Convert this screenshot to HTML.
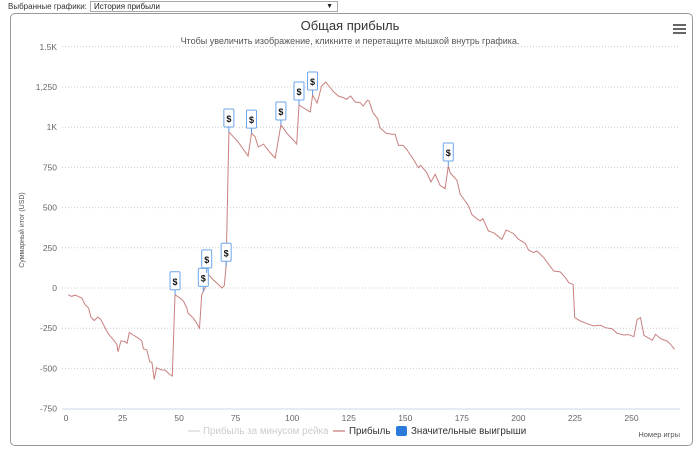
<!DOCTYPE html>
<html><head><meta charset="utf-8">
<style>
html,body{margin:0;padding:0;background:#fff;width:700px;height:455px;overflow:hidden;font-family:"Liberation Sans","DejaVu Sans",sans-serif;}
#top{position:absolute;left:0;top:0;width:700px;height:13px;}
#lbl{position:absolute;left:8px;top:2px;font-size:8px;color:#333;}
#sel{position:absolute;left:90px;top:1px;width:248px;height:11px;border:1px solid #aaa;font-size:8px;color:#222;box-sizing:border-box;padding-left:3px;line-height:9px;background:#fff;}
#sel span{position:absolute;right:4px;top:0;font-size:7px;}
#box{position:absolute;left:10px;top:13px;width:683px;height:433px;border:1px solid #999;border-radius:5px;box-sizing:border-box;}
svg{position:absolute;left:0;top:0;}
</style></head><body>
<div id="top">
<div id="lbl">Выбранные графики:</div>
<div id="sel">История прибыли<span>▼</span></div>
</div>
<div id="box"></div>
<svg id="chart" width="700" height="455"></svg>
<script>
const games=[1,2.5,4,7,8.5,10,11,12.5,14,15.3,17,18.7,21,22.5,23,24.3,26,27,28,29.7,32,33.5,34.2,35.7,37,38,39,40,42.3,43.8,45.3,47,48.2,50.4,52,53.4,54,56.3,57.8,59,60,60.7,61.5,62.2,63.7,65,67.4,68.9,70,70.8,72,74,76,80.5,82,83.6,85,87.3,90,92.5,95,97.6,100.5,102,103,105,108,109,111,113,114.8,118,120.4,122.6,124,125.8,127.8,130,131.4,133.2,134,135.7,137.8,138.8,141.5,144,145.5,147,149,150.6,153.6,155.8,156.8,159.5,161.3,163.2,165.4,167.6,169,169.8,172.8,174.3,176.5,178,179.4,181.6,183.1,184.3,186.8,189,192.7,194.6,197.9,200.1,203,204.5,206.7,208.2,211.2,215.6,218.5,220.8,222.3,224.2,224.9,227.4,231.1,233.3,236.3,238.5,241.4,243.7,246.6,248.8,251,252.5,254,255.5,259.2,260.6,262.9,265.8,267.3,269];
const profit=[-42,-52,-44,-62,-104,-125,-181,-202,-181,-194,-240,-285,-323,-350,-396,-329,-333,-344,-277,-292,-312,-329,-379,-385,-458,-465,-569,-496,-510,-510,-531,-548,-42,-62,-83,-125,-156,-188,-219,-250,-42,-21,0,94,73,52,21,0,15,135,970,940,910,820,963,940,877,895,846,808,1014,963,920,895,1138,1120,1095,1200,1150,1256,1281,1225,1194,1184,1173,1194,1157,1153,1132,1167,1163,1090,1053,997,962,956,956,887,887,862,800,748,763,717,659,707,638,618,759,717,670,582,541,510,458,431,417,431,354,344,303,361,338,303,278,236,220,230,189,106,100,64,33,23,-184,-205,-226,-236,-232,-247,-253,-282,-292,-290,-303,-195,-184,-294,-325,-288,-315,-330,-350,-381];
const winGames=[48.2,60.7,62.2,70.8,72,82,95,103,109,169];
const winValues=[-42,-21,94,135,970,963,1014,1138,1200,759];
const yTicks=[1500,1250,1000,750,500,250,0,-250,-500,-750];
const yTickLabels=["1.5K","1,250","1K","750","500","250","0","-250","-500","-750"];
const xTicks=[0,25,50,75,100,125,150,175,200,225,250];

const NS="http://www.w3.org/2000/svg";
const svg=document.getElementById('chart');
const X0=66,XS=2.262,Y0=288,YS=40.2/250;
function xs(g){return X0+g*XS;}
function ys(v){return Y0-v*YS;}
function mk(t,a,txt){const e=document.createElementNS(NS,t);for(const k in a)e.setAttribute(k,a[k]);if(txt!==undefined)e.textContent=txt;svg.appendChild(e);return e;}

let e;
e=mk('text',{x:350,y:30,'text-anchor':'middle','font-size':13,fill:'#333'},'Общая прибыль');


e=mk('text',{x:350,y:44,'text-anchor':'middle','font-size':9,fill:'#555'},'Чтобы увеличить изображение, кликните и перетащите мышкой внутрь графика.');


e=mk('path',{d:'M673,25h13M673,29h13M673,33h13',stroke:'#666','stroke-width':2});



yTicks.forEach((v,i)=>{
  if(v!==-750){e=mk('line',{x1:62,x2:680,y1:ys(v),y2:ys(v),stroke:'#ccc','stroke-dasharray':'1,2','stroke-width':1});
  
  }
  e=mk('text',{x:57,y:ys(v)+3,'text-anchor':'end','font-size':8.5,fill:'#666'},yTickLabels[i]);
  
  
});
e=mk('line',{x1:62,x2:680,y1:409,y2:409,stroke:'#ccd6eb','stroke-width':1});


xTicks.forEach(g=>{
  e=mk('text',{x:xs(g),y:421,'text-anchor':'middle','font-size':8.5,fill:'#666'},String(g));
  
  
});
e=mk('text',{x:24,y:230,'text-anchor':'middle','font-size':7,fill:'#555',transform:'rotate(-90 24 230)'},'Суммарный итог (USD)');


e=mk('text',{x:680,y:437,'text-anchor':'end','font-size':7.5,fill:'#555'},'Номер игры');



let d=games.map((g,i)=>(i?'L':'M')+xs(g).toFixed(1)+','+ys(profit[i]).toFixed(1)).join('');
e=mk('path',{d:d,fill:'none',stroke:'#c98080','stroke-width':1});



winGames.forEach((g,i)=>{
  const px=xs(g),py=ys(winValues[i]);
  e=mk('line',{x1:px,x2:px,y1:py-5,y2:py,stroke:'#5a9ae0','stroke-width':1});
  
  
  e=mk('rect',{x:px-5,y:py-23,width:10,height:18,fill:'#fff',stroke:'#6ea6e8','stroke-width':1,rx:1});
  
  
  e=mk('text',{x:px,y:py-10,'text-anchor':'middle','font-size':9,'font-weight':'bold',fill:'#111'},'$');
  
  
});

e=mk('line',{x1:188,x2:200,y1:431,y2:431,stroke:'#ddd','stroke-width':1.5});


e=mk('text',{x:203,y:434,'font-size':9.8,fill:'#ccc'},'Прибыль за минусом рейка');


e=mk('line',{x1:333,x2:345,y1:431,y2:431,stroke:'#d09090','stroke-width':1.5});


e=mk('text',{x:349,y:434,'font-size':9.8,fill:'#333'},'Прибыль');


e=mk('rect',{x:396,y:426,width:11,height:10,rx:2,fill:'#2b7bdc'});


e=mk('text',{x:411,y:434,'font-size':9.8,fill:'#333'},'Значительные выигрыши');


</script>
</body></html>
